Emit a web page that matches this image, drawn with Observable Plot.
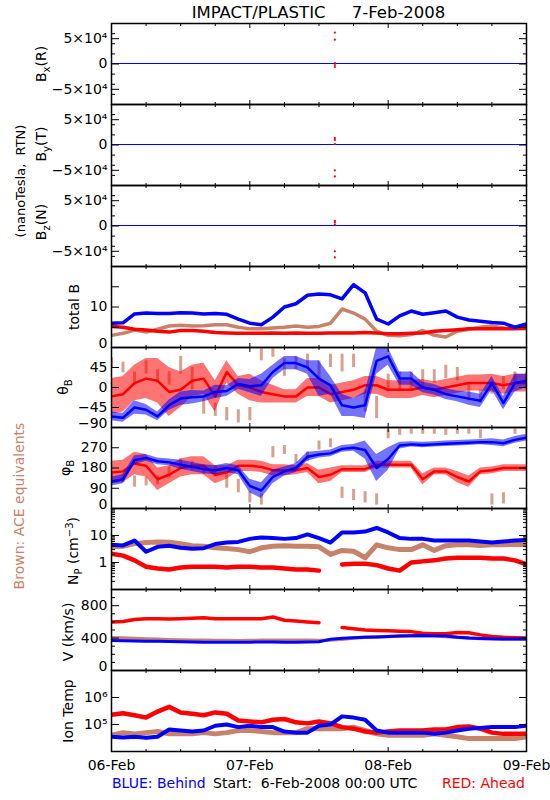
<!DOCTYPE html>
<html><head><meta charset="utf-8">
<script src="https://cdn.jsdelivr.net/npm/d3@7"></script>
<script src="https://cdn.jsdelivr.net/npm/@observablehq/plot@0.6"></script>
<style>
body{margin:0;background:#fff;}
#wrap{position:relative;width:550px;height:800px;overflow:hidden;font-family:"DejaVu Sans",sans-serif;background:#fff;}
</style></head><body><div id="wrap"></div>
<script>
// ---------- time grid (hours after 2008-02-06 00:00 UTC) ----------
const hours = [0,2,4,6,8,10,12,14,16,18,20,22,24,26,28,30,32,34,36,38,40,42,44,46,48,50,52,54,56,58,60,62,64,66,68,70,72];
const dayTicks = [0,24,48,72];
const dayLabels = ["06-Feb","07-Feb","08-Feb","09-Feb"];
const minorHourTicks = [6,12,18,30,36,42,54,60,66];

// ---------- B components (RTN) ----------
const bFlatHours = [0,72];
const bxBlue = [0,0];
const byBlue = [0,0];
const bzBlue = [0,0];
const spikeHour = 38.75;
const bxRedSpikes = [62000,48000,2000,-2000,-6000];
const byRedSpikes = [14000,10000,2000,-50000,-62000];
const bzRedSpikes = [10000,7000,3000,-50000,-62000];

// ---------- total B ----------
const totBBlue  = [6.0,6.1,8.3,8.5,8.4,8.4,8.6,8.5,8.3,8.4,8.2,7.0,6.0,5.6,7.5,10.0,10.8,12.9,13.2,13.0,12.0,15.5,13.5,7.0,5.8,7.8,9.0,8.2,8.6,9.0,7.5,6.8,6.5,6.2,6.0,5.0,5.8];
const totBRed   = [5.2,5.0,4.5,4.3,4.0,3.8,4.2,4.2,4.0,3.7,3.6,3.5,3.5,3.5,3.6,3.5,3.6,3.5,3.5,3.6,3.6,3.6,3.7,3.6,3.4,3.4,3.5,3.6,4.0,4.2,4.4,4.6,4.6,4.6,4.6,4.7,4.8];
const totBBrown = [3.0,3.5,4.3,3.8,4.5,5.3,5.5,5.3,5.4,5.6,5.6,5.0,4.6,4.6,4.8,5.0,5.3,5.0,5.2,6.0,9.5,8.5,7.0,4.0,3.0,2.9,3.2,4.2,3.0,2.6,4.0,4.5,5.0,5.3,4.8,4.6,4.6];

// ---------- theta_B (centre and half-spread) ----------
const thetaBlue   = [-65,-68,-45,-50,-65,-40,-25,-22,-20,-10,-8,8,3,5,35,55,55,45,20,5,-40,-45,-40,60,70,20,20,0,-5,-15,-20,-25,-30,10,-35,10,15];
const thetaBlueS  = [10,10,15,12,10,12,15,15,12,15,12,12,15,25,15,15,15,15,40,20,25,20,30,30,20,15,15,12,12,12,12,15,15,15,15,20,15];
const thetaRed    = [-20,-15,10,20,15,-10,-5,15,20,-20,35,5,0,-10,-15,-20,-20,0,0,-15,-10,-5,5,5,-5,-5,-5,0,-5,0,5,10,10,10,5,10,10];
const thetaRedS   = [40,40,40,45,50,55,40,35,35,35,25,20,30,25,20,15,15,20,20,20,20,20,20,20,20,20,20,18,18,18,18,18,18,20,20,20,20];
const thetaBrown  = [55,45,20,45,25,20,50,20,-40,-50,-60,-65,-60,75,80,45,55,60,40,60,55,60,-30,-45,10,15,15,20,25,35,30,-10,-20,0,10,20,20];
const thetaBrownS = [12,12,15,15,15,15,20,25,20,15,15,15,15,15,12,20,15,15,20,15,20,15,25,25,20,20,20,20,15,15,15,20,15,15,15,15,15];

// ---------- phi_B ----------
const phiBlue   = [120,130,215,225,210,205,195,185,175,170,180,170,100,80,140,165,180,230,240,245,265,270,260,180,220,280,285,282,285,288,290,292,295,295,290,305,315];
const phiBlueS  = [20,20,20,15,15,15,20,20,20,20,20,20,30,35,30,20,20,20,15,15,15,15,40,60,50,15,12,12,12,12,12,12,12,15,15,15,15];
const phiRed    = [160,165,200,190,130,150,180,190,190,150,160,190,190,185,170,170,170,180,140,150,175,175,175,195,195,195,195,130,165,165,140,120,165,170,180,180,180];
const phiRedS   = [50,50,50,50,50,40,40,40,40,40,30,25,25,25,25,25,20,20,30,30,15,15,15,15,15,15,15,25,15,15,25,25,15,15,15,15,15];
const phiBrown  = [140,135,120,120,125,160,200,190,170,165,120,100,50,40,250,260,220,230,280,290,70,60,50,40,330,340,345,345,345,340,345,345,330,40,45,345,345];
const phiBrownS = [20,20,25,20,20,25,20,20,20,25,30,30,25,25,25,20,20,20,20,20,25,25,25,25,20,15,15,15,15,15,15,15,20,25,25,15,15];

// ---------- proton density ----------
const npBlue  = [4.5,4.3,6.5,2.5,3.8,4.2,3.5,3.2,3.4,4.8,5.5,5.8,7.5,8.5,8.0,7.5,8.0,11,8,5.5,13,13,14,19,13,8,7.5,7.5,6.5,6.5,6.5,6.5,6,5.5,6,6.5,6.8];
const npRed   = [2.1,1.8,1.2,0.7,0.6,0.55,0.65,0.7,0.7,0.7,0.65,0.7,0.7,0.65,0.65,0.6,0.55,0.55,0.5,null,0.85,0.9,0.9,0.8,0.6,0.5,1.0,1.1,1.2,1.4,1.5,1.5,1.5,1.4,1.4,1.2,0.85];
const npBrown = [3.8,4.0,5.0,5.5,5.8,5.6,5.0,4.2,4.0,3.5,3.3,3.0,2.5,3.5,4.0,4.2,4.0,4.0,3.8,2.0,2.8,2.6,1.5,4.5,3.5,3.0,3.0,4.5,2.8,4.2,4.5,4.5,4.3,4.5,4.5,4.7,4.5];

// ---------- bulk speed ----------
const vBlue  = [370,368,365,362,360,358,355,352,350,350,350,348,350,352,352,350,350,352,355,385,398,405,410,415,420,425,430,432,430,425,410,400,395,392,390,390,388];
const vRed   = [600,605,630,640,640,635,640,645,650,640,640,640,638,640,660,620,610,600,590,null,530,515,500,495,490,485,480,460,455,455,470,465,440,420,410,405,400];
const vBrown = [405,400,395,390,385,380,378,375,372,370,370,368,370,372,372,372,372,372,370,375,385,400,410,415,420,425,430,430,428,420,410,400,395,392,390,390,388];

// ---------- ion temperature ----------
const tBlue  = [3.5e4,3.3e4,3.5e4,3.2e4,3.5e4,6.5e4,6e4,5.5e4,6e4,9e4,1e5,8e4,9e4,8e4,8e4,5.5e4,5e4,5e4,9e4,1e5,2e5,1.8e5,1.5e5,6e4,5e4,5e4,5e4,5e4,4.5e4,5e4,6e4,7e4,7.5e4,8e4,8e4,8e4,9e4];
const tRed   = [2.3e5,2.6e5,2.2e5,1.8e5,3e5,4.5e5,2.8e5,2.5e5,2.2e5,2.8e5,2.5e5,1.4e5,1.3e5,1.2e5,1.5e5,1.6e5,1.2e5,1.1e5,1.3e5,1.1e5,8e4,7e4,5.5e4,5e4,5.5e4,6e4,6e4,6e4,6.5e4,6.5e4,8e4,8.5e4,7e4,5e4,4.5e4,4.5e4,4.5e4];
const tBrown = [4e4,5e4,4.5e4,5e4,5.5e4,4.5e4,4.5e4,4.5e4,5e4,4.5e4,5e4,6e4,6e4,5.5e4,5e4,5e4,5e4,7e4,7e4,7e4,7e4,8e4,6e4,4.5e4,4e4,4e4,4e4,4e4,4.5e4,4e4,3.5e4,3e4,3e4,3e4,3e4,3e4,3.5e4];

// ---------- axis tick values / labels ----------
const bLabelVals = [-50000,0,50000], bLabelTexts = ["−5×10⁴","0","5×10⁴"];
const bMajor = [-50000,0,50000], bMinor = [-60000,-40000,-20000,20000,40000,60000];
const totBLabelVals = [0,10], totBLabelTexts = ["0","10"], totBMajor = [5,10,15];
const thetaLabelVals = [-90,-45,0,45], thetaLabelTexts = ["−90","−45","0","45"], thetaMajor = [-45,0,45];
const phiLabelVals = [0,90,180,270], phiLabelTexts = ["0","90","180","270"], phiMajor = [90,180,270];
const npLabelVals = [1,10], npLabelTexts = ["1","10"], npMajor = [1,10];
const npMinor = [0.2,0.3,0.4,0.5,0.6,0.7,0.8,0.9,2,3,4,5,6,7,8,9,20,30,40,50,60,70,80,90];
const vLabelVals = [0,400,800], vLabelTexts = ["0","400","800"], vMajor = [400,800], vMinor = [100,200,300,500,600,700,900];
const tLabelVals = [1e5,1e6], tLabelTexts = ["10⁵","10⁶"], tMajor = [1e5,1e6];

// ---------- helpers ----------
const BLUE = "#0000ff", RED = "#ff0000", BROWN = "#c8826a";
const T0 = Date.UTC(2008,1,6);
const toDate = h => new Date(T0 + h*3600000);
const xDomain = [toDate(0), toDate(72)];
const series = (hrs, vals) => hrs.map((h,i) => ({t: toDate(h), v: vals[i]}));
const band = (hrs, c, s) => hrs.map((h,i) => ({t: toDate(h), v: c[i], lo: c[i]-s[i], hi: c[i]+s[i]}));
const PANEL_TOPS = [23,104,185,266,347,427,508,589,670,751];
const ML = 111, MR = 24, W = 550, PAD = 14;
const wrap = document.getElementById("wrap");

function lineMark(vals, color, sw) {
  return Plot.line(series(hours, vals), {x:"t", y:"v", stroke: color, strokeWidth: sw, clip: true});
}
function bandMarks(c, s, color, op) {
  const d = band(hours, c, s);
  return [
    Plot.areaY(d, {x:"t", y1:"lo", y2:"hi", fill: color, fillOpacity: op, clip: true}),
    Plot.line(d, {x:"t", y:"v", stroke: color, strokeWidth: 2.5, clip: true})
  ];
}
function scatterMarks(c, s, color) {
  const d = band(hours, c, s);
  return [
    Plot.ruleX(d, {x:"t", y1:"lo", y2:"hi", stroke: color, strokeWidth: 3, strokeOpacity: 0.75, clip: true})
  ];
}

function yAxes(cfg) {
  const lab = new Map(cfg.labelVals.map((v,i) => [v, cfg.labelTexts[i]]));
  const fmt = d => lab.get(d) ?? "";
  const d0 = cfg.domain[0];
  const m = [];
  const main = cfg.labelVals.filter(v => v !== d0);
  const low = cfg.labelVals.filter(v => v === d0);
  if (main.length) m.push(Plot.axisY({ticks: main, tickSize: 0, tickPadding: 4, tickFormat: fmt, label: null}));
  if (low.length) m.push(Plot.axisY({ticks: low, tickSize: 0, tickPadding: 4, tickFormat: fmt, label: null, dy: -4}));
  for (const anchor of ["left","right"]) {
    m.push(Plot.axisY({anchor, ticks: cfg.major, tickSize: -8, tickFormat: () => "", label: null}));
    if (cfg.minor) m.push(Plot.axisY({anchor, ticks: cfg.minor, tickSize: -4, tickFormat: () => "", label: null}));
  }
  return m;
}

function makePanel(idx, cfg) {
  const top = PANEL_TOPS[idx], bot = PANEL_TOPS[idx+1];
  const last = idx === 8;
  const mb = last ? 40 : PAD;
  const marks = [...cfg.marks, Plot.frame({stroke: "black", strokeWidth: 1.5})];
  for (const anchor of ["top","bottom"]) {
    marks.push(Plot.axisX({anchor, ticks: dayTicks.map(toDate), tickSize: -4, tickFormat: () => "", label: null}));
    marks.push(Plot.axisX({anchor, ticks: minorHourTicks.map(toDate), tickSize: -2, tickFormat: () => "", label: null}));
  }
  if (last) {
    marks.push(Plot.axisX({anchor: "bottom", ticks: dayTicks.map(toDate), tickSize: 0, tickPadding: 9,
      tickFormat: d => dayLabels[dayTicks.indexOf((+d - T0)/3600000)], label: null}));
  }
  marks.push(...yAxes(cfg));
  const svg = Plot.plot({
    width: W, height: (bot - top) + PAD + mb,
    marginLeft: ML, marginRight: MR, marginTop: PAD, marginBottom: mb,
    x: {type: "utc", domain: xDomain, axis: null},
    y: {type: cfg.type || "linear", domain: cfg.domain, axis: null},
    style: {background: "transparent", overflow: "visible", fontFamily: "DejaVu Sans, sans-serif", fontSize: "14px", color: "black"},
    marks
  });
  svg.style.position = "absolute";
  svg.style.left = "0px";
  svg.style.top = (top - PAD) + "px";
  wrap.appendChild(svg);
}

const bCfg = {domain: [-80000, 80000], labelVals: bLabelVals, labelTexts: bLabelTexts, major: bMajor, minor: bMinor};
const spikes = vals => vals.map(v => ({t: toDate(spikeHour), v}));
const flatLine = vals => Plot.line(series(bFlatHours, vals), {x:"t", y:"v", stroke: BLUE, strokeWidth: 1.2, dy: -0.5});

makePanel(0, {...bCfg, marks: [
  flatLine(bxBlue),
  Plot.dot(spikes(bxRedSpikes), {x:"t", y:"v", r: 1.1, fill: RED, stroke: null})
]});
makePanel(1, {...bCfg, marks: [
  flatLine(byBlue),
  Plot.dot(spikes(byRedSpikes), {x:"t", y:"v", r: 1.1, fill: RED, stroke: null})
]});
makePanel(2, {...bCfg, marks: [
  flatLine(bzBlue),
  Plot.dot(spikes(bzRedSpikes), {x:"t", y:"v", r: 1.1, fill: RED, stroke: null})
]});
makePanel(3, {domain: [0, 20], labelVals: totBLabelVals, labelTexts: totBLabelTexts, major: totBMajor, marks: [
  lineMark(totBBrown, BROWN, 3.5), lineMark(totBRed, RED, 3.5), lineMark(totBBlue, BLUE, 3.5)
]});
makePanel(4, {domain: [-90, 90], labelVals: thetaLabelVals, labelTexts: thetaLabelTexts, major: thetaMajor, marks: [
  ...scatterMarks(thetaBrown, thetaBrownS, BROWN),
  ...bandMarks(thetaRed, thetaRedS, RED, 0.55),
  ...bandMarks(thetaBlue, thetaBlueS, BLUE, 0.55)
]});
makePanel(5, {domain: [0, 360], labelVals: phiLabelVals, labelTexts: phiLabelTexts, major: phiMajor, marks: [
  ...scatterMarks(phiBrown, phiBrownS, BROWN),
  ...bandMarks(phiRed, phiRedS, RED, 0.55),
  ...bandMarks(phiBlue, phiBlueS, BLUE, 0.55)
]});
makePanel(6, {type: "log", domain: [0.1, 100], labelVals: npLabelVals, labelTexts: npLabelTexts, major: npMajor, minor: npMinor, marks: [
  lineMark(npBrown, BROWN, 5), lineMark(npRed, RED, 4.5), lineMark(npBlue, BLUE, 4)
]});
makePanel(7, {domain: [0, 1000], labelVals: vLabelVals, labelTexts: vLabelTexts, major: vMajor, minor: vMinor, marks: [
  lineMark(vBrown, BROWN, 3.5), lineMark(vRed, RED, 3.5), lineMark(vBlue, BLUE, 3)
]});
makePanel(8, {type: "log", domain: [1e4, 1e7], labelVals: tLabelVals, labelTexts: tLabelTexts, major: tMajor, marks: [
  lineMark(tBrown, BROWN, 5), lineMark(tRed, RED, 4.5), lineMark(tBlue, BLUE, 4)
]});

// ---------- titles, axis names, footer ----------
const ov = d3.select(wrap).append("svg")
  .attr("width", 550).attr("height", 800)
  .style("position", "absolute").style("left", "0px").style("top", "0px")
  .style("font-family", "DejaVu Sans, sans-serif");

ov.append("text").attr("x", 318.5).attr("y", 18).attr("text-anchor", "middle")
  .attr("font-size", 16.5).style("white-space", "pre").text("IMPACT/PLASTIC     7-Feb-2008");

function vlabel(x, y, parts, size = 14, color = "black") {
  const t = ov.append("text").attr("transform", `translate(${x},${y}) rotate(-90)`)
    .attr("text-anchor", "middle").attr("font-size", size).attr("fill", color).style("white-space", "pre");
  let shift = 0;
  for (const [s, kind] of parts) {
    const target = kind === "sub" ? 4 : kind === "sup" ? -5 : 0;
    const ts = t.append("tspan").attr("dy", target - shift).text(s);
    if (kind) ts.attr("font-size", size * 0.72);
    shift = target;
  }
}
vlabel(46, 64, [["B"],["x","sub"],["(R)"]]);
vlabel(46, 144, [["B"],["y","sub"],["(T)"]]);
vlabel(46, 222, [["B"],["z","sub"],["(N)"]]);
vlabel(25, 181, [["(nanoTesla,  RTN)"]], 13);
vlabel(79, 307, [["total B"]]);
vlabel(68, 387, [["θ"],["B","sub"]]);
vlabel(70, 468, [["φ"],["B","sub"]]);
vlabel(78, 551, [["N"],["P","sub"],[" (cm"],["−3","sup"],[")"]]);
vlabel(73, 632, [["V (km/s)"]]);
vlabel(73, 711, [["Ion Temp"]]);
vlabel(24, 506, [["Brown: ACE equivalents"]], 14, BROWN);

ov.append("text").attr("x", 112).attr("y", 788).attr("font-size", 14).attr("fill", BLUE).text("BLUE: Behind");
ov.append("text").attr("x", 213).attr("y", 788).attr("font-size", 14).style("white-space", "pre").text("Start:  6-Feb-2008 00:00 UTC");
ov.append("text").attr("x", 525).attr("y", 788).attr("font-size", 14).attr("text-anchor", "end").attr("fill", RED).text("RED: Ahead");
</script></body></html>
